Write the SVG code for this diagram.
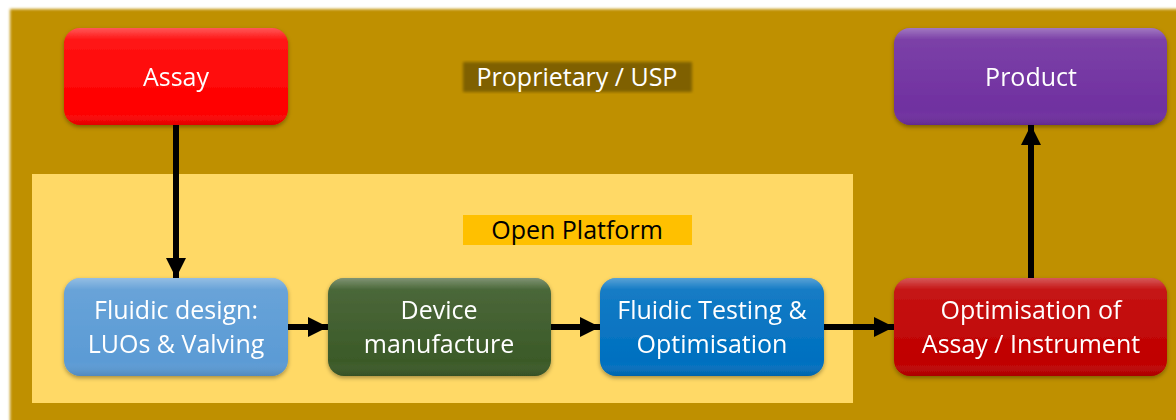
<svg xmlns="http://www.w3.org/2000/svg" width="1176" height="420" viewBox="0 0 1176 420">
<style>
.lbl{font-family:"Open Sans","Liberation Sans",sans-serif;font-size:25px;fill:#ffffff;text-anchor:middle}
.hdr{font-family:"Open Sans","Liberation Sans",sans-serif;font-size:25px;text-anchor:middle}
.con{stroke:#000;stroke-width:6;fill:none;marker-end:url(#ah)}
.node{filter:url(#sh)}
.gloss{fill:url(#gl)}
</style>
<defs>
<marker id="ah" viewBox="0 0 10 10" refX="10" refY="5" markerWidth="3.4" markerHeight="3.6" orient="auto" markerUnits="strokeWidth">
<path d="M0,0 L10,5 L0,10 Z" fill="#000"/>
</marker>
<filter id="sh" x="-10%" y="-10%" width="120%" height="130%">
<feDropShadow dx="0" dy="2" stdDeviation="2" flood-color="#000" flood-opacity="0.35"/>
</filter>
<filter id="blur" x="-5%" y="-5%" width="110%" height="110%"><feGaussianBlur stdDeviation="1.5"/></filter>
<linearGradient id="gl" x1="0" y1="0" x2="0" y2="1">
<stop offset="0" stop-color="#fff" stop-opacity="0.35"/>
<stop offset="0.12" stop-color="#fff" stop-opacity="0.08"/>
<stop offset="0.85" stop-color="#fff" stop-opacity="0"/>
<stop offset="1" stop-color="#000" stop-opacity="0.12"/>
</linearGradient>
</defs>
<rect x="0" y="0" width="1176" height="420" fill="#ffffff"/>
<rect x="10" y="9" width="1170" height="415" fill="#BF9000" filter="url(#blur)"/>
<rect id="open-platform-area" x="32" y="174" width="821" height="229" fill="#FFD966"/>
<g id="label-proprietary">
<rect x="463" y="62" width="229" height="30" fill="#7F6000" filter="url(#blur)"/>
<text class="hdr" x="577" y="86" style="fill:#fff">Proprietary / USP</text>
</g>
<g id="label-open">
<rect x="463" y="215" width="229" height="30" fill="#FFC000"/>
<text class="hdr" x="577" y="239" style="fill:#000">Open Platform</text>
</g>
<g id="connectors">
<line class="con" x1="176" y1="125" x2="176" y2="278"/>
<line class="con" x1="288" y1="327" x2="328" y2="327"/>
<line class="con" x1="551" y1="327" x2="600" y2="327"/>
<line class="con" x1="824" y1="327" x2="894" y2="327"/>
<line class="con" x1="1031" y1="278" x2="1031" y2="125"/>
</g>
<g id="assay" class="node">
<rect x="64" y="28" width="224" height="97" rx="16" fill="#FF0000"/>
<rect x="64" y="28" width="224" height="97" rx="16" class="gloss"/>
<text class="lbl" x="176" y="86">Assay</text>
</g>
<g id="product" class="node">
<rect x="894" y="28" width="273" height="97" rx="16" fill="#7030A0"/>
<rect x="894" y="28" width="273" height="97" rx="16" class="gloss"/>
<text class="lbl" x="1031" y="86">Product</text>
</g>
<g id="fluidic-design" class="node">
<rect x="64" y="278" width="224" height="98" rx="16" fill="#5B9BD5"/>
<rect x="64" y="278" width="224" height="98" rx="16" class="gloss"/>
<text class="lbl" x="176" y="319">Fluidic design:</text>
<text class="lbl" x="176" y="353">LUOs &amp; Valving</text>
</g>
<g id="device-manufacture" class="node">
<rect x="328" y="278" width="223" height="98" rx="16" fill="#3B5A28"/>
<rect x="328" y="278" width="223" height="98" rx="16" class="gloss"/>
<text class="lbl" x="439" y="319">Device</text>
<text class="lbl" x="439" y="353">manufacture</text>
</g>
<g id="fluidic-testing" class="node">
<rect x="600" y="278" width="224" height="98" rx="16" fill="#0070C0"/>
<rect x="600" y="278" width="224" height="98" rx="16" class="gloss"/>
<text class="lbl" x="712" y="319">Fluidic Testing &amp;</text>
<text class="lbl" x="712" y="353">Optimisation</text>
</g>
<g id="optimisation" class="node">
<rect x="894" y="278" width="273" height="98" rx="16" fill="#C00000"/>
<rect x="894" y="278" width="273" height="98" rx="16" class="gloss"/>
<text class="lbl" x="1031" y="319">Optimisation of</text>
<text class="lbl" x="1031" y="353">Assay / Instrument</text>
</g>
</svg>
